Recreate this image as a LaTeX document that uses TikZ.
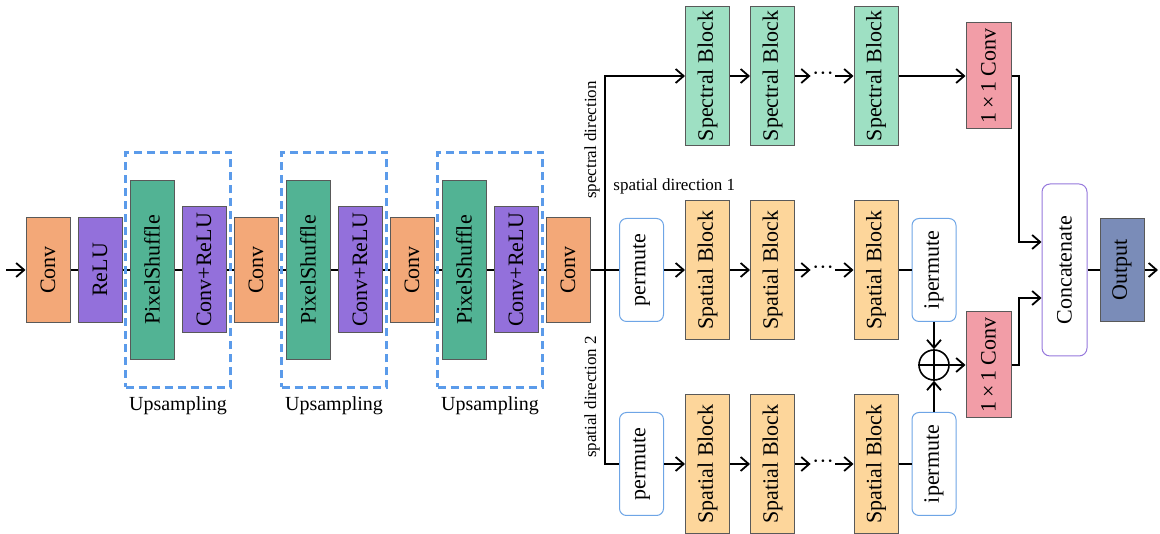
\documentclass[tikz,border=0pt]{standalone}
\usepackage{fontspec}
\setmainfont{Liberation Serif}
\usetikzlibrary{arrows.meta, positioning, calc}

\definecolor{convorange}{HTML}{F3A878}
\definecolor{relupurple}{HTML}{9370DB}
\definecolor{psgreen}{HTML}{52B394}
\definecolor{specgreen}{HTML}{9EE0C3}
\definecolor{spatorange}{HTML}{FDD69B}
\definecolor{pinkconv}{HTML}{F29DA7}
\definecolor{outblue}{HTML}{7A8CB8}
\definecolor{permblue}{HTML}{6EA5E6}
\definecolor{catpurple}{HTML}{9678DC}
\definecolor{dashblue}{HTML}{5B9BEA}

\tikzset{
  blk/.style={draw=black!65, line width=0.5pt, inner sep=0pt, minimum width=22pt,
    font=\fontsize{11}{13}\selectfont},
  convbox/.style={blk, fill=convorange, minimum height=52.5pt},
  relubox/.style={blk, fill=relupurple, minimum height=52.5pt},
  psbox/.style={blk, fill=psgreen, minimum height=89.5pt},
  crbox/.style={blk, fill=relupurple, minimum height=63pt},
  specbox/.style={blk, fill=specgreen, minimum height=69.5pt},
  spatbox/.style={blk, fill=spatorange, minimum height=69.5pt},
  onebox/.style={blk, fill=pinkconv, minimum width=22.5pt, minimum height=53pt},
  outbox/.style={blk, fill=outblue, minimum height=51.5pt},
  permbox/.style={blk, draw=permblue, fill=white, rounded corners=3.5pt, minimum height=51.5pt},
  catbox/.style={blk, draw=catpurple, fill=white, rounded corners=4pt,
    minimum width=22.5pt, minimum height=86pt},
  upbox/.style={draw=dashblue, line width=1.1pt, dash pattern=on 4pt off 2.5pt,
    minimum width=52.5pt, minimum height=117.5pt},
  flow/.style={line width=0.9pt},
  dotsnode/.style={inner sep=0.5pt, font=\fontsize{11}{13}\selectfont},
  dirlabel/.style={inner sep=1pt, font=\fontsize{8.5}{10}\selectfont},
}
\newcommand{\vtext}[1]{\rotatebox{90}{#1}}

\begin{document}
\begin{tikzpicture}[x=0.5pt, y=0.5pt, >={Straight Barb[length=4pt, width=7pt]}]
  \useasboundingbox (0,0) rectangle (1160,534);

  % Input and branch points
  \coordinate (inp) at (6,264);
  \coordinate (br) at (605,264);
  \coordinate (bt) at (1019,292);
  \coordinate (bb) at (1019,236);
  \coordinate (outend) at (1158,264);

  % Upsampling backbone
  \foreach \name/\x/\kind/\txt in {c1/48/convbox/Conv, r1/100/relubox/ReLU,
      ps1/152/psbox/PixelShuffle, cr1/204/crbox/Conv+ReLU, c2/256/convbox/Conv,
      ps2/308/psbox/PixelShuffle, cr2/360/crbox/Conv+ReLU, c3/412/convbox/Conv,
      ps3/464/psbox/PixelShuffle, cr3/516/crbox/Conv+ReLU, c4/568/convbox/Conv}
    \node[\kind] (\name) at (\x,264) {\vtext{\txt}};

  \foreach \a/\b in {c1/r1, r1/ps1, ps1/cr1, cr1/c2, c2/ps2, ps2/cr2, cr2/c3,
      c3/ps3, ps3/cr3, cr3/c4}
    \draw[flow] (\a) -- (\b);
  \draw[flow, ->] (inp) -- (c1);

  % Dashed groups
  \foreach \i in {1,2,3} {
    \node[upbox] (up\i) at ($(ps\i)!0.5!(cr\i)$) {};
    \node[below=0.5pt of up\i, font=\fontsize{10}{12}\selectfont] (ul\i) {Upsampling};
  }

  % Permute nodes
  \node[permbox] (p1) at (641.5,264) {\vtext{permute}};
  \node[permbox] (p2) at (641.5,70) {\vtext{permute}};
  \node[permbox] (ip1) at (934,264) {\vtext{ipermute}};
  \node[permbox] (ip2) at (934,70) {\vtext{ipermute}};

  % Three branches of blocks
  \foreach \row/\y/\kind/\txt in {spec/458/specbox/Spectral Block,
      spa/264/spatbox/Spatial Block, spb/70/spatbox/Spatial Block} {
    \node[\kind] (\row1) at (707.5,\y) {\vtext{\txt}};
    \node[\kind] (\row2) at (772.5,\y) {\vtext{\txt}};
    \node[\kind] (\row3) at (876,\y) {\vtext{\txt}};
    \node[dotsnode] (dots\row) at (823,\y) {···};
    \draw[flow, ->] (\row1) -- (\row2);
    \draw[flow, ->] (\row2) -- (dots\row);
    \draw[flow, ->] (dots\row) -- (\row3);
  }

  % Branch wiring
  \draw[flow] (c4) -- (p1);
  \draw[flow, ->] (br) |- (spec1.west);
  \draw[flow] (br) |- (p2.west);
  \draw[flow, ->] (p1) -- (spa1);
  \draw[flow, ->] (p2) -- (spb1);
  \draw[flow] (spa3) -- (ip1);
  \draw[flow] (spb3) -- (ip2);

  % Fusion
  \node[draw, circle, line width=0.8pt, minimum size=15pt, inner sep=0pt] (plus) at (934,169) {};
  \draw[line width=0.8pt] (plus.north) -- (plus.south) (plus.west) -- (plus.east);
  \node[onebox] (cv1) at (988.5,458) {\vtext{1\,×\,1 Conv}};
  \node[onebox] (cv2) at (988.5,169) {\vtext{1\,×\,1 Conv}};
  \node[catbox] (cat) at (1064.5,264) {\vtext{Concatenate}};
  \node[outbox] (out) at (1122,264) {\vtext{Output}};

  \draw[flow, ->] (ip1) -- (plus);
  \draw[flow, ->] (ip2) -- (plus);
  \draw[flow, ->] (plus) -- (cv2);
  \draw[flow, ->] (spec3) -- (cv1);
  \draw[flow, ->] (cv1.east) -| (bt) -- (cat.west |- bt);
  \draw[flow, ->] (cv2.east) -| (bb) -- (cat.west |- bb);
  \draw[flow] (cat) -- (out);
  \draw[flow, ->] (out) -- (outend);

  % Direction labels
  \node[dirlabel, rotate=90] (lspec) at (592,394) {spectral direction};
  \node[dirlabel, anchor=west] (lspa) at (611,348) {spatial direction 1};
  \node[dirlabel, rotate=90] (lspb) at (592,137) {spatial direction 2};
\end{tikzpicture}
\end{document}
